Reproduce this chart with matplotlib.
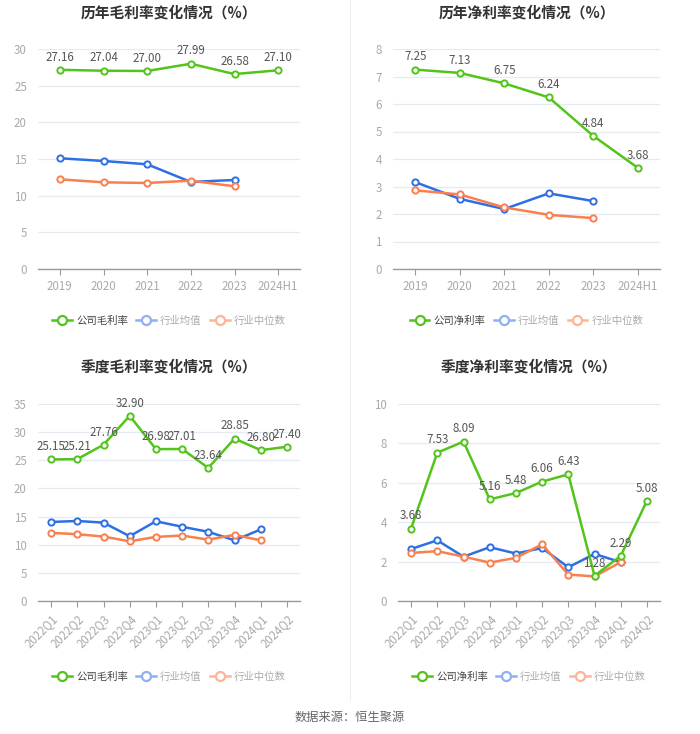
import matplotlib
matplotlib.use("Agg")
import matplotlib.pyplot as plt
from matplotlib.lines import Line2D

plt.rcParams['font.family'] = ['Noto Sans CJK SC', 'DejaVu Sans']

# ---------------- data ----------------
years = ["2019", "2020", "2021", "2022", "2023", "2024H1"]
gm_company = [27.16, 27.04, 27.00, 27.99, 26.58, 27.10]
gm_ind_mean = [15.10, 14.73, 14.28, 11.87, 12.14]
gm_ind_median = [12.23, 11.82, 11.73, 12.05, 11.28]

nm_company = [7.25, 7.13, 6.75, 6.24, 4.84, 3.68]
nm_ind_mean = [3.16, 2.55, 2.18, 2.75, 2.47]
nm_ind_median = [2.86, 2.71, 2.24, 1.97, 1.85]

quarters = ["2022Q1", "2022Q2", "2022Q3", "2022Q4", "2023Q1", "2023Q2",
            "2023Q3", "2023Q4", "2024Q1", "2024Q2"]
qgm_company = [25.15, 25.21, 27.76, 32.90, 26.98, 27.01, 23.64, 28.85, 26.80, 27.40]
qgm_ind_mean = [14.04, 14.22, 13.92, 11.51, 14.16, 13.19, 12.29, 10.78, 12.71]
qgm_ind_median = [12.11, 11.87, 11.45, 10.60, 11.39, 11.63, 10.90, 11.75, 10.78]

qnm_company = [3.68, 7.53, 8.09, 5.16, 5.48, 6.06, 6.43, 1.28, 2.29, 5.08]
qnm_ind_mean = [2.64, 3.08, 2.25, 2.73, 2.41, 2.69, 1.71, 2.39, 1.97]
qnm_ind_median = [2.44, 2.53, 2.25, 1.95, 2.19, 2.88, 1.34, 1.25, 1.97]

titles = ["历年毛利率变化情况（%）", "历年净利率变化情况（%）",
          "季度毛利率变化情况（%）", "季度净利率变化情况（%）"]
legend_gm = ["公司毛利率", "行业均值", "行业中位数"]
legend_nm = ["公司净利率", "行业均值", "行业中位数"]
source_text = "数据来源：恒生聚源"

# ---------------- style ----------------
GREEN = "#52c41a"
BLUE = "#2f6fe4"
ORANGE = "#fa7f4e"
BLUE_L = "#8fb0f3"
ORANGE_L = "#ffb497"

W, H = 700, 734
fig = plt.figure(figsize=(W / 100, H / 100), dpi=100)
fig.patch.set_facecolor("white")


def px_axes(left, right, top, bottom):
    return fig.add_axes([left / W, (H - bottom) / H, (right - left) / W, (bottom - top) / H])


def draw_panel(box, cats, comp, mean, median, ymax, ystep, title, labels, title_y, legend_y, rotate):
    ax = px_axes(*box)
    x = list(range(len(cats)))
    for vals, col, z in ((mean, BLUE, 3), (median, ORANGE, 3), (comp, GREEN, 4)):
        ax.plot(x[:len(vals)], vals, color=col, lw=1.8, marker="o", ms=4.5,
                mfc="white", mec=col, mew=1.4, zorder=z, clip_on=False)
    for xi, v in zip(x, comp):
        ax.annotate(f"{v:.2f}", (xi, v), xytext=(0, 4.5), textcoords="offset points",
                    ha="center", va="bottom", fontsize=8.3, color="#555555", zorder=6)
    ax.set_xlim(-0.5, len(cats) - 0.5)
    ax.set_ylim(0, ymax)
    ax.set_yticks([i * ystep for i in range(int(round(ymax / ystep)) + 1)])
    ax.yaxis.grid(True, color="#e6eaf2", lw=0.9)
    ax.set_axisbelow(True)
    for s in ("top", "right", "left"):
        ax.spines[s].set_visible(False)
    ax.spines["bottom"].set_color("#999999")
    ax.spines["bottom"].set_linewidth(1.0)
    ax.tick_params(axis="y", length=0, labelcolor="#aaaaaa", labelsize=8.3, pad=8)
    ax.tick_params(axis="x", length=4, color="#999999", labelcolor="#aaaaaa", labelsize=8.3, pad=4)
    ax.set_xticks(x)
    if rotate:
        ax.set_xticklabels(cats, rotation=45, ha="right", rotation_mode="anchor")
    else:
        ax.set_xticklabels(cats)
    cx = (box[0] + box[1]) / 2
    fig.text(cx / W, (H - title_y) / H, title, ha="center", va="center",
             fontsize=10.6, fontweight="bold", color="#333333")
    handles = [
        Line2D([], [], color=GREEN, lw=1.8, marker="o", ms=6.5, mfc="white", mec=GREEN, mew=1.6),
        Line2D([], [], color=BLUE_L, lw=1.8, marker="o", ms=6.5, mfc="white", mec=BLUE_L, mew=1.6),
        Line2D([], [], color=ORANGE_L, lw=1.8, marker="o", ms=6.5, mfc="white", mec=ORANGE_L, mew=1.6),
    ]
    leg = fig.legend(handles, labels, loc="center", bbox_to_anchor=(cx / W, (H - legend_y) / H),
                     ncol=3, frameon=False, fontsize=7.5, handlelength=1.9, handletextpad=0.4,
                     columnspacing=0.8)
    cols = ["#444444", "#aaaaaa", "#aaaaaa"]
    for t, c in zip(leg.get_texts(), cols):
        t.set_color(c)
    return ax


# top-left
ax1 = draw_panel((38, 300, 49, 269), years, gm_company, gm_ind_mean, gm_ind_median,
                 30, 5, titles[0], legend_gm, 13, 321, False)
# top-right
ax2 = draw_panel((393, 660, 49, 269), years, nm_company, nm_ind_mean, nm_ind_median,
                 8, 1, titles[1], legend_nm, 13, 321, False)
# bottom-left
ax3 = draw_panel((38, 300, 404, 601), quarters, qgm_company, qgm_ind_mean, qgm_ind_median,
                 35, 5, titles[2], legend_gm, 367, 677, True)
# bottom-right
ax4 = draw_panel((398, 660, 404, 601), quarters, qnm_company, qnm_ind_mean, qnm_ind_median,
                 10, 2, titles[3], legend_nm, 367, 677, True)

# vertical divider
fig.add_artist(Line2D([350 / W, 350 / W], [(H - 0) / H, (H - 700) / H], color="#eeeeee", lw=0.8))

fig.text(350 / W, (H - 717) / H, source_text, ha="center", va="center", fontsize=8.8, color="#666666")

fig.savefig("out.png", dpi=100, facecolor="white")
